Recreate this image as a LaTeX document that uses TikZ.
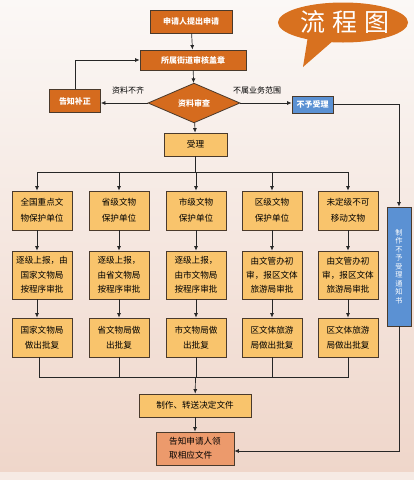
\documentclass[tikz,border=0pt]{standalone}
\usepackage{fontspec}
\newfontfamily\cjk{Noto Sans CJK SC}
\usetikzlibrary{shapes.geometric,arrows.meta,calc}
\definecolor{bgtop}{HTML}{FBF8F6}
\definecolor{bgbot}{HTML}{EFD6CA}
\definecolor{dorange}{HTML}{D56B1E}
\definecolor{lorange}{HTML}{F9C46C}
\definecolor{salmon}{HTML}{EC9A6C}
\definecolor{bluebox}{HTML}{5B91D3}
\definecolor{edge}{HTML}{4A3A2C}
\definecolor{bubble}{HTML}{D8711F}
\tikzset{
  basebox/.style={draw=edge, line width=0.8pt, inner sep=0pt, align=center},
  darkbox/.style={basebox, fill=dorange, text=white, font=\cjk\bfseries\fontsize{8}{10}\selectfont},
  lightbox/.style={basebox, fill=lorange, text=black, minimum width=60, font=\cjk\fontsize{8.6}{10}\selectfont},
  arr/.style={draw=black!85, line width=0.7pt, -{Latex[length=4.5pt,width=4pt]}},
  ln/.style={draw=black!85, line width=0.7pt},
  lbl/.style={font=\cjk\fontsize{8}{10}\selectfont, text=black, inner sep=0pt}
}
\begin{document}
\begin{tikzpicture}[x=1pt,y=-1pt]
\useasboundingbox (0,0) rectangle (414,480);
\shade[top color=bgtop, bottom color=bgbot] (0,0) rectangle (414,472);
\fill[bgtop!60!bgbot] (0,472) rectangle (414,480);

% speech bubble
\fill[bubble] (343,22.5) ellipse [x radius=65, y radius=20];
\fill[bubble] (308,36) -- (303,67) -- (334,40) -- cycle;
\node[text=white, font=\cjk\fontsize{25}{25}\selectfont, inner sep=0pt] (title) at (345,22) {流\hspace{7pt}程\hspace{7pt}图};

% main column
\node[darkbox, minimum width=82, minimum height=23] (a) at (191,21.5) {申请人提出申请};
\node[darkbox, minimum width=106, minimum height=20] (b) at (193,60) {所属街道审核盖章};
\node[darkbox, diamond, minimum width=92, minimum height=32] (d) at (194,103) {资料审查};
\node[darkbox, minimum width=51, minimum height=23] (c) at (75,101) {告知补正};
\node[basebox, fill=bluebox, text=white, font=\cjk\bfseries\fontsize{8}{10}\selectfont, minimum width=41, minimum height=17] (n) at (312.5,104.5) {不予受理};
\node[lightbox, minimum width=63, minimum height=23] (s) at (195.5,144.5) {受理};

\node[lbl] (l1) at (128,90) {资料不齐};
\node[lbl] (l2) at (257,90) {不属业务范围};

\draw[arr] (a) -- (b);
\draw[arr] (b) -- (d);
\draw[arr] (d) -- (s);
\draw[arr] (d.west) -- (d.west -| c.east);
\draw[arr] (c.north) |- (b.west);
\draw[arr] (d.east) -- (d.east -| n.west);

% rows
\foreach \i/\x/\ta/\tb/\tc in {
  1/42/{全国重点文\\物保护单位}/{逐级上报，由\\国家文物局\\按程序审批}/{国家文物局\\做出批复},
  2/119/{省级文物\\保护单位}/{逐级上报，\\由省文物局\\按程序审批}/{省文物局做\\出批复},
  3/196/{市级文物\\保护单位}/{逐级上报，\\由市文物局\\按程序审批}/{市文物局做\\出批复},
  4/272/{区级文物\\保护单位}/{由文管办初\\审，报区文体\\旅游局审批}/{区文体旅游\\局做出批复},
  5/348/{未定级不可\\移动文物}/{由文管办初\\审，报区文体\\旅游局审批}/{区文体旅游\\局做出批复}}{
  \node[lightbox, minimum height=39, font=\cjk\fontsize{8.6}{16}\selectfont] (r1c\i) at (\x,210.5) {\ta};
  \node[lightbox, minimum height=48, font=\cjk\fontsize{8.6}{14.3}\selectfont] (r2c\i) at (\x,275) {\tb};
  \node[lightbox, minimum height=39, font=\cjk\fontsize{8.6}{15}\selectfont] (r3c\i) at (\x,337.5) {\tc};
}

\coordinate (bustop) at (195.5,172);
\coordinate (busbot) at (195.5,377);
\coordinate (k1) at ($(r1c1.north)+(-5,0)$);
\coordinate (k2) at ($(r1c1.south)+(-5,0)$);
\coordinate (k3) at ($(r2c1.north)+(-5,0)$);
\coordinate (k4) at ($(r2c1.south)+(-5,0)$);
\coordinate (k5) at ($(r3c1.north)+(-5,0)$);
\coordinate (k6) at ($(r3c1.south)+(-3,0)$);

\draw[ln] (s.south) -- (bustop);
\draw[ln] (bustop -| k1) -- (bustop -| r1c5.north);
\draw[arr] (bustop -| k1) -- (k1);
\draw[arr] (k2) -- (k3);
\draw[arr] (k4) -- (k5);
\foreach \i in {2,...,5}{
  \draw[arr] (bustop -| r1c\i.north) -- (r1c\i.north);
  \draw[arr] (r1c\i) -- (r2c\i);
  \draw[arr] (r2c\i) -- (r3c\i);
}
\draw[ln] (k6) |- (busbot -| r3c5.south) -- (r3c5.south);
\foreach \i in {2,3,4}{
  \draw[ln] (r3c\i.south) -- (busbot -| r3c\i.south);
}

\node[lightbox, minimum width=112, minimum height=23] (m) at (195,405.5) {制作、转送决定文件};
\node[basebox, fill=salmon, minimum width=78, minimum height=33, font=\cjk\fontsize{8.6}{14}\selectfont, align=left] (g) at (195,448.5) {告知申请人领\\取相应文件};
\draw[arr] (busbot) -- (m);
\draw[arr] (m) -- (g);

% right branch
\node[basebox, fill=bluebox, text=white, minimum width=24, minimum height=119, font=\cjk\fontsize{7.2}{8.5}\selectfont] (v) at (399,266.5) {制\\作\\不\\予\\受\\理\\通\\知\\书};
\draw[arr] (n.east) -| (v.north);
\draw[arr] (v.south) |- ($(g.east)+(0,2.5)$);
\end{tikzpicture}
\end{document}
